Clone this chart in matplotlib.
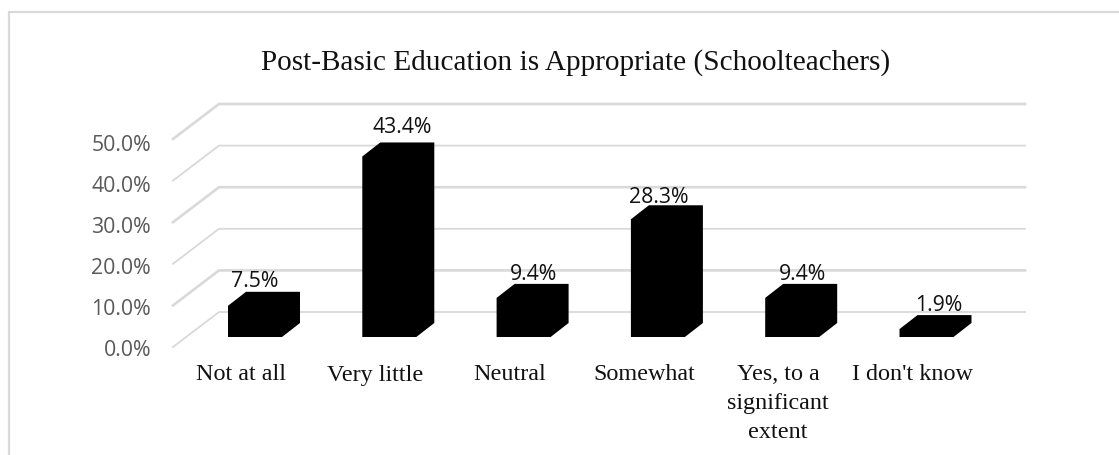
import matplotlib
matplotlib.use("Agg")
import matplotlib.pyplot as plt

categories = ["Not at all", "Very little", "Neutral", "Somewhat", "Yes, to a\nsignificant\nextent", "I don't know"]
values = [7.5, 43.4, 9.4, 28.3, 9.4, 1.9]
value_labels = ["7.5%", "43.4%", "9.4%", "28.3%", "9.4%", "1.9%"]
y_ticks = [0, 10, 20, 30, 40, 50]
y_tick_labels = ["0.0%", "10.0%", "20.0%", "30.0%", "40.0%", "50.0%"]
title = "Post-Basic Education is Appropriate (Schoolteachers)"
thick_grid = [10, 30, 50]

# label placement relative to each bar (pixels)
label_dx_px = [27, 40, 37, 28, 37, 39]
label_gap_px = [13, 18, 12, 11, 12, 13]

W, H = 1119, 455
fig = plt.figure(figsize=(W / 100, H / 100), dpi=100)
ax = fig.add_axes([0, 0, 1, 1])
PX_CAT = 134.3
PX_PCT = 4.16
X0 = 228.0
Y0 = 347.0
ax.set_xlim(-X0 / PX_CAT, (W - X0) / PX_CAT)
ax.set_ylim((Y0 - H) / PX_PCT, Y0 / PX_PCT)
ax.axis("off")

dx = lambda px: px / PX_CAT
dy = lambda px: px / PX_PCT

# chart frame
ax.plot([dx(9 - X0), dx(9 - X0), dx(W - X0)],
        [dy(Y0 - H), dy(Y0 - 11.5), dy(Y0 - 11.5)],
        color="#d9d9d9", lw=1.6, solid_joinstyle="miter", zorder=1)

# walls: grid lines
front_x = dx(173 - X0)
back_x = dx(219 - X0)
end_x = dx(1025 - X0)
rise = dy(35)
for t, lab in zip(y_ticks, y_tick_labels):
    lw = 1.9 if t in thick_grid else 1.3
    ax.plot([front_x, back_x, end_x], [t, t + rise, t + rise],
            color="#d9d9d9", lw=lw, solid_joinstyle="miter", zorder=2)
    ax.text(dx(151 - X0), t * 0.985 - dy(3), lab, ha="right", va="center",
            family="Open Sans", fontsize=15.3, color="#595959", zorder=3)

# bars: oblique hexagons
depth_x = dx(18)
depth_y = dy(14)
bar_w = dx(54)
base = dy(10)
for i, (v, lab, cat) in enumerate(zip(values, value_labels, categories)):
    top = base + v
    xs = [i, i + bar_w, i + bar_w + depth_x, i + bar_w + depth_x, i + depth_x, i]
    ys = [base, base, base + depth_y, top + depth_y, top + depth_y, top]
    ax.fill(xs, ys, color="black", lw=0, zorder=4)
    ax.text(i + dx(label_dx_px[i]), top + depth_y + dy(label_gap_px[i] - 3), lab,
            ha="center", va="center",
            family="Open Sans", fontsize=15.3, color="#111111", zorder=5)
    for j, line in enumerate(cat.split("\n")):
        ax.text(i + dx(13), dy(Y0 - 380.5 - 28.5 * j), line, ha="center", va="baseline",
                family="Liberation Serif", fontsize=17.4, color="#111111", zorder=5)

ax.text(dx(575.5 - X0), dy(Y0 - 63), title, ha="center", va="center",
        family="Liberation Serif", fontsize=21.1, color="#111111", zorder=5)

fig.savefig("out.png", dpi=100, facecolor="white")
